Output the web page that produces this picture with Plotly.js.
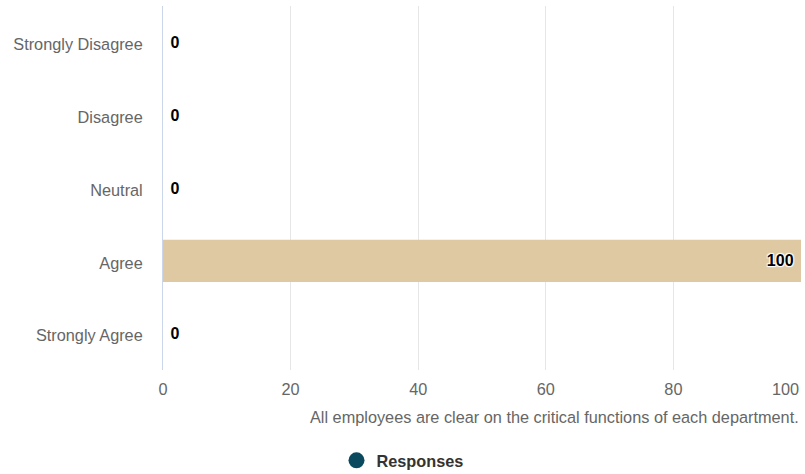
<!DOCTYPE html>
<html>
<head>
<meta charset="utf-8">
<script src="https://cdn.plot.ly/plotly-3.0.1.min.js"></script>
<style>
  html, body { margin: 0; padding: 0; background: #ffffff; }
  #chart { width: 805px; height: 474px; }
</style>
</head>
<body>
<div id="chart"></div>
<script>
// Survey answers, top to bottom
const categories = ["Strongly Disagree", "Disagree", "Neutral", "Agree", "Strongly Agree"];
const responses = [0, 0, 0, 100, 0];
const seriesName = "Responses";
const question = "All employees are clear on the critical functions of each department.";
const xTicks = [0, 20, 40, 60, 80, 100];

const font = "Liberation Sans, Arial, sans-serif";
const labelSize = 16.3;
const NBSP = "\u00a0";

const bars = {
  type: "bar",
  orientation: "h",
  y: categories,
  x: responses,
  name: seriesName,
  showlegend: false,
  width: 0.58,
  marker: { color: "#dec9a3" },
  // empty bars carry their label just past the axis, full bars inside the end
  textposition: responses.map(v => v > 0 ? "inside" : "outside"),
  text: responses.map(v => v > 0 ? String(v) + NBSP : NBSP + String(v)),
  insidetextanchor: "end",
  constraintext: "none",
  cliponaxis: false,
  textfont: {
    family: font, size: 16, color: "#000000", weight: 700,
    shadow: "1px 1px 1px #fff, -1px -1px 1px #fff, 1px -1px 1px #fff, -1px 1px 1px #fff"
  },
  hoverinfo: "x+y"
};

// legend entry drawn with a round symbol
const legendEntry = {
  type: "scatter",
  mode: "markers",
  x: [null],
  y: [null],
  name: seriesName,
  marker: { color: "#0b4a5e", size: 16, symbol: "circle" },
  showlegend: true,
  hoverinfo: "skip"
};

// the last tick label sits flush with the right end of the axis
const lastTick = xTicks[xTicks.length - 1];

const layout = {
  width: 805,
  height: 474,
  margin: { l: 163, r: 4, t: 6, b: 104 },
  paper_bgcolor: "#ffffff",
  plot_bgcolor: "#ffffff",
  font: { family: font, size: labelSize, color: "#666666" },
  xaxis: {
    range: [0, 100],
    tickvals: xTicks,
    ticktext: xTicks.map(v => v === lastTick ? "" : String(v)),
    showgrid: true,
    gridcolor: "#e6e6e6",
    gridwidth: 1,
    zeroline: false,
    showline: false,
    ticks: "",
    ticklen: 0,
    ticklabelstandoff: 8,
    tickfont: { family: font, size: labelSize, color: "#666666" },
    fixedrange: true
  },
  yaxis: {
    type: "category",
    categoryorder: "array",
    categoryarray: categories,
    autorange: "reversed",
    showgrid: false,
    zeroline: false,
    showline: true,
    linecolor: "#ccd6eb",
    linewidth: 1,
    ticks: "",
    ticklabelstandoff: 16,
    ticklabelshift: -2,
    tickfont: { family: font, size: labelSize, color: "#666666" },
    fixedrange: true
  },
  annotations: [
    {
      text: String(lastTick),
      xref: "x", yref: "paper",
      x: lastTick, y: 0,
      xanchor: "right", yanchor: "top",
      yshift: -8,
      showarrow: false,
      font: { family: font, size: labelSize, color: "#666666" }
    },
    {
      text: question,
      xref: "paper", yref: "paper",
      x: 1, y: 0,
      xanchor: "right", yanchor: "top",
      yshift: -36,
      showarrow: false,
      font: { family: font, size: labelSize, color: "#666666" }
    }
  ],
  showlegend: true,
  legend: {
    orientation: "h",
    xref: "container", yref: "container",
    x: 0.5, xanchor: "center",
    y: 0.028, yanchor: "middle",
    font: { family: font, size: labelSize, color: "#333333", weight: 700 },
    itemsizing: "trace"
  },
  hovermode: "closest"
};

Plotly.newPlot("chart", [bars, legendEntry], layout, { displayModeBar: false });
</script>
</body>
</html>
